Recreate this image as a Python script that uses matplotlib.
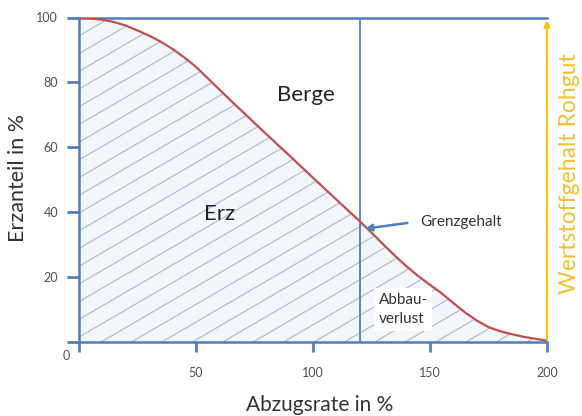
import numpy as np
import matplotlib
matplotlib.use("Agg")
import matplotlib.pyplot as plt

plt.rcParams['font.family'] = ['Lato', 'DejaVu Sans']

# curve
abzug = [0, 5, 10, 15, 20, 25, 30, 35, 40, 45, 50, 55, 60, 65, 70, 80, 90, 100, 110,
         120, 125, 130, 135, 140, 145, 150, 155, 160, 165, 170, 175, 180, 185, 190, 195, 200]
erz = [100, 99.7, 99.3, 98.6, 97.5, 96.0, 94.4, 92.5, 90.3, 87.7, 84.8, 81.3, 77.8, 74.3, 70.9,
       64.1, 57.4, 50.6, 43.9, 37.2, 33.7, 30.1, 26.6, 23.3, 20.3, 17.6, 15.0, 12.0, 9.1,
       6.6, 4.6, 3.3, 2.4, 1.6, 1.0, 0.4]
grenze = 120
xticks = [0, 50, 100, 150, 200]
yticks = [0, 20, 40, 60, 80, 100]

blue = '#4f7fbf'
red = '#c0504d'
yellow = '#ffc000'
grey = '#505050'

fig = plt.figure(figsize=(5.82, 4.16), dpi=100)
ax = fig.add_axes([79/582, 1 - 342/416, 468/582, 324.5/416])
ax.set_xlim(0, 200)
ax.set_ylim(0, 100)

# light filled area under the curve with shallow diagonal hatch
poly = ax.fill_between(abzug, 0, erz, color='#f3f7fb', lw=0, zorder=1)
clip = poly.get_paths()[0]
xs = np.array([-300, 300])
for c in np.arange(9.4 - 13 * 40, 200, 13):
    ln, = ax.plot(xs, 0.42 * (xs - c), color='#b3bfce', lw=0.9, zorder=2)
    ln.set_clip_path(clip, ax.transData)

ax.plot(abzug, erz, color=red, lw=1.6, zorder=4)
ax.axvline(grenze, color=blue, lw=1.3, zorder=3)

# spines
for s in ['left', 'bottom', 'top']:
    ax.spines[s].set_color(blue)
    ax.spines[s].set_linewidth(1.8)
ax.spines['right'].set_visible(False)
ax.annotate('', xy=(200, 100), xytext=(200, 0),
            arrowprops=dict(arrowstyle='-|>', color=yellow, lw=1.5, mutation_scale=9),
            annotation_clip=False, zorder=5)

ax.set_xticks(xticks)
ax.set_xticklabels([''] + [str(t) for t in xticks[1:]])
ax.set_yticks(yticks)
ax.set_yticklabels([''] + [str(t) for t in yticks[1:]])
ax.tick_params(axis='x', length=7, width=2, color=blue, pad=11, labelsize=9, labelcolor=grey)
ax.tick_params(axis='y', length=9, width=2, color=blue, pad=6, labelsize=9, labelcolor=grey)
fig.text(66/582, 1 - 356/416, '0', fontsize=9, color=grey, ha='center', va='center')

# labels
fig.text(18/582, 1 - 178/416, 'Erzanteil in %', rotation=90, fontsize=15.5,
         color='#333333', ha='center', va='center')
fig.text(320/582, 1 - 405/416, 'Abzugsrate in %', fontsize=15,
         color='#333333', ha='center', va='center')
fig.text(570/582, 1 - 174/416, 'Wertstoffgehalt Rohgut', rotation=90, fontsize=16.5,
         color='#f2c230', ha='center', va='center')

ax.text(97, 76, 'Berge', fontsize=16, color='#222222', ha='center', va='center', zorder=6)
ax.text(60, 39.5, 'Erz', fontsize=16, color='#222222', ha='center', va='center', zorder=6)
ax.text(146, 37, 'Grenzgehalt', fontsize=11, color='#333333', ha='left', va='center', zorder=6)
ax.annotate('', xy=(121, 34.8), xytext=(141.5, 36.8),
            arrowprops=dict(arrowstyle='-|>', color=blue, lw=1.8, mutation_scale=10), zorder=6)
ax.text(128, 10, 'Abbau-\nverlust', fontsize=11, color='#333333', ha='left', va='center',
        multialignment='left', linespacing=1.45, zorder=3,
        bbox=dict(boxstyle='square,pad=0.3', fc='white', ec='none'))

fig.savefig('out.png', dpi=100)
